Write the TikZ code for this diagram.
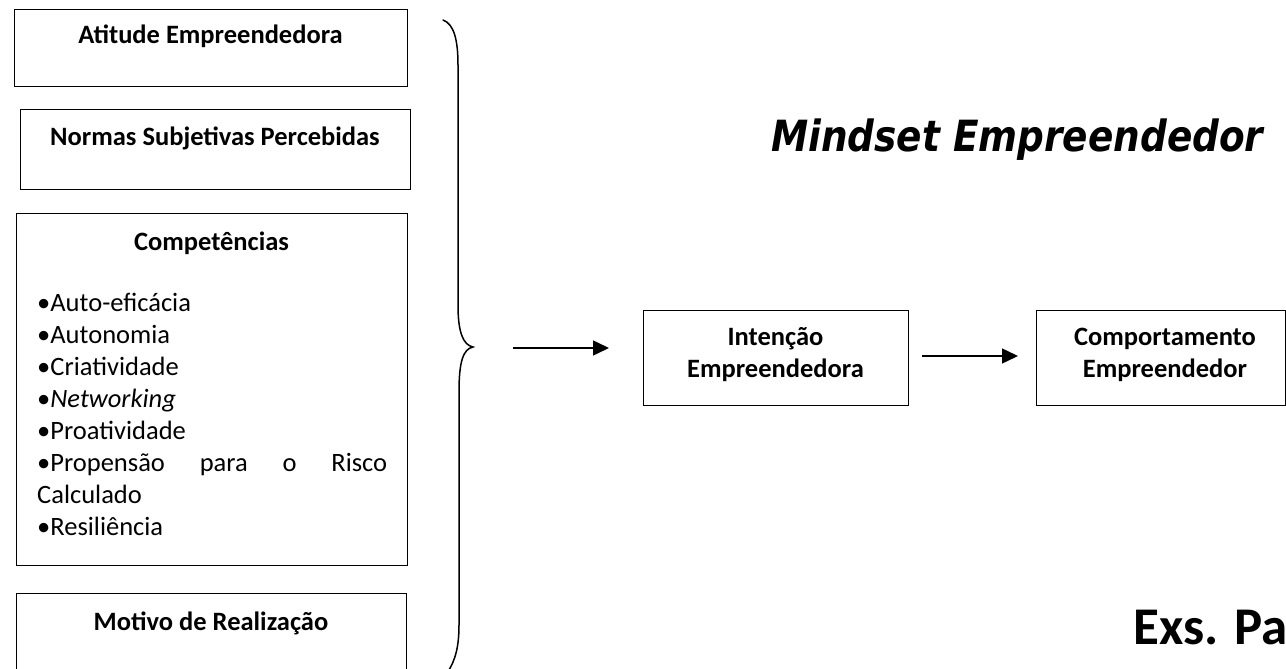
\documentclass[tikz,border=0pt]{standalone}
\usepackage{fontspec}
\setmainfont{Carlito}
\newfontfamily\mindfont[FakeStretch=0.87]{DejaVu Sans}
\usetikzlibrary{arrows.meta}
\newcommand{\twoln}[3]{\parbox[t]{#1}{\centering #2\\#3}}
\tikzset{
  box/.style={draw, line width=1.4pt, inner sep=0pt, anchor=north west},
  boxtitle/.style={font=\fontsize{26.5}{32}\selectfont\bfseries, inner sep=0pt, anchor=base},
  flow/.style={line width=1.5pt, -{Triangle[length=16pt,width=15pt]}},
  bracel/.style={line width=1.5pt, line cap=round},
}
\begin{document}
\begin{tikzpicture}[x=1pt,y=-1pt]
\clip (0,0) rectangle (1286,669);
\fill[white] (0,0) rectangle (1286,669);

% left column boxes
\node[box, minimum width=393pt, minimum height=77pt] (att) at (14,9) {};
\node[boxtitle] (attT) at (210.5,43.5) {Atitude Empreendedora};

\node[box, minimum width=390pt, minimum height=80pt] (nor) at (20,109) {};
\node[boxtitle] (norT) at (215,145.5) {Normas Subjetivas Percebidas};

\node[box, minimum width=391pt, minimum height=352pt] (com) at (16,213) {};
\node[boxtitle] (comT) at (211.5,250) {Competências};
\node[anchor=north west, inner sep=0pt, font=\fontsize{26.5}{32}\selectfont] (list) at (37,288.6)
  {\parbox[t]{350pt}{\tolerance=10000\hyphenpenalty=10000\exhyphenpenalty=10000\strut
  •Auto-eficácia\par
  •Autonomia\par
  •Criatividade\par
  •\textit{Networking}\par
  •Proatividade\par
  •Propensão para o Risco Calculado\par
  •Resiliência}};

\node[box, minimum width=390pt, minimum height=84pt] (mot) at (16,593) {};
\node[boxtitle] (motT) at (211,630) {Motivo de Realização};

% brace
\draw[bracel] (443,20) .. controls (454,24) and (458,40) .. (458,65)
  -- (458,305) .. controls (458,332) and (463,345) .. (473,347)
  .. controls (463,349) and (459,362) .. (459,392)
  -- (459,625) .. controls (459,645) and (456,660) .. (447,673);

% right flow
\node[box, minimum width=265pt, minimum height=95pt] (int) at (643,310) {};
\node[boxtitle] (intT) at (775.5,345) {\twoln{265pt}{Intenção}{Empreendedora}};

\node[box, minimum width=249pt, minimum height=95pt] (cmp) at (1036,310) {};
\node[boxtitle] (cmpT) at (1165,345) {\twoln{249pt}{Comportamento}{Empreendedor}};

\coordinate (a1s) at (513,348);
\coordinate (a1e) at (609,348);
\draw[flow] (a1s) -- (a1e);
\coordinate (a2s) at (922,356);
\coordinate (a2e) at (1018,356);
\draw[flow] (a2s) -- (a2e);

% titles
\node[anchor=base west, inner sep=0pt, font=\mindfont\fontsize{43}{50}\selectfont\bfseries\itshape] (mind) at (771,151) {Mindset Empreendedor};
\node[anchor=base west, inner sep=0pt, font=\fontsize{53}{62}\selectfont\bfseries] (exs) at (1133,644) {Exs. Pal};
\end{tikzpicture}
\end{document}
